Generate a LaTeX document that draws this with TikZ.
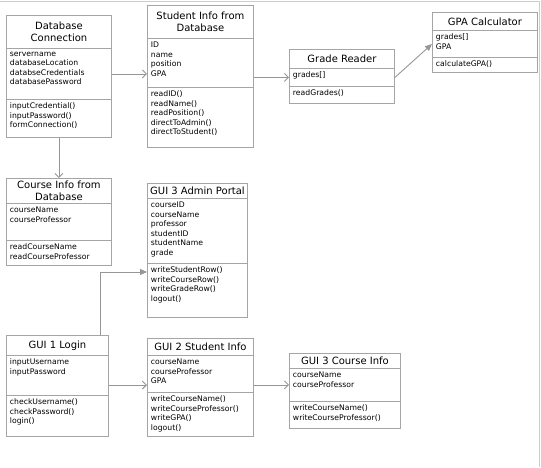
\documentclass[tikz,border=0pt]{standalone}
\usepackage{fontspec}
\setmainfont{DejaVu Sans}
\usetikzlibrary{arrows.meta}

\definecolor{boxgray}{RGB}{165,165,165}
\definecolor{linegray}{RGB}{150,150,150}
\definecolor{framegray}{RGB}{205,205,205}

% compartment of a class box: width, height, lines
\newcommand{\compartment}[3]{\parbox[t][\dimexpr#2pt-7pt\relax][t]{\dimexpr#1pt-7pt\relax}{\raggedright #3}}

\begin{document}
\begin{tikzpicture}[x=1pt, y=-1pt,
    classtitle/.style={draw=boxgray, line width=0.9pt, fill=white, anchor=north west,
      inner sep=0pt, align=center, font=\fontsize{10}{11.5}\selectfont},
    classpart/.style={draw=boxgray, line width=0.9pt, fill=white, anchor=north west,
      inner xsep=3.5pt, inner ysep=3.5pt, font=\fontsize{7.7}{9.5}\selectfont},
    openarrow/.style={draw=linegray, line width=0.9pt, -{Straight Barb[length=4pt,width=8pt]}},
    filledarrow/.style={draw=linegray, line width=0.9pt, -{Triangle[length=7pt,width=6pt]}}]

    \useasboundingbox (0,0) rectangle (541,467);
    \draw[framegray, line width=1pt] (0,1.5) -- (539.5,1.5) -- (539.5,467);

    % Database Connection
    \node[classtitle, minimum width=105, minimum height=33] (dbc-t) at (6,15) {Database\\Connection};
    \node[classpart] (dbc-a) at (6,48) {\compartment{105}{51}{servername\\databaseLocation\\databseCredentials\\databasePassword}};
    \node[classpart] (dbc-m) at (6,99) {\compartment{105}{38}{inputCredential()\\inputPassword()\\formConnection()}};

    % Student Info from Database
    \node[classtitle, minimum width=106, minimum height=33] (sid-t) at (147,5) {Student Info from\\Database};
    \node[classpart] (sid-a) at (147,38) {\compartment{106}{49}{ID\\name\\position\\GPA}};
    \node[classpart] (sid-m) at (147,87) {\compartment{106}{60}{readID()\\readName()\\readPosition()\\directToAdmin()\\directToStudent()}};

    % Grade Reader
    \node[classtitle, minimum width=105, minimum height=19] (grd-t) at (289,49) {Grade Reader};
    \node[classpart] (grd-a) at (289,68) {\compartment{105}{18}{grades[]}};
    \node[classpart] (grd-m) at (289,86) {\compartment{105}{17}{readGrades()}};

    % GPA Calculator
    \node[classtitle, minimum width=105, minimum height=18] (gpa-t) at (432,12) {GPA Calculator};
    \node[classpart] (gpa-a) at (432,30) {\compartment{105}{27}{grades[]\\GPA}};
    \node[classpart] (gpa-m) at (432,57) {\compartment{105}{15}{calculateGPA()}};

    % Course Info from Database
    \node[classtitle, minimum width=105, minimum height=25] (cid-t) at (6,178) {Course Info from\\Database};
    \node[classpart] (cid-a) at (6,203) {\compartment{105}{37}{courseName\\courseProfessor}};
    \node[classpart] (cid-m) at (6,240) {\compartment{105}{25}{readCourseName\\readCourseProfessor}};

    % GUI 3 Admin Portal
    \node[classtitle, minimum width=100, minimum height=15] (adm-t) at (147,183) {GUI 3 Admin Portal};
    \node[classpart] (adm-a) at (147,198) {\compartment{100}{65}{courseID\\courseName\\professor\\studentID\\studentName\\grade}};
    \node[classpart] (adm-m) at (147,263) {\compartment{100}{54}{writeStudentRow()\\writeCourseRow()\\writeGradeRow()\\logout()}};

    % GUI 1 Login
    \node[classtitle, minimum width=102, minimum height=20] (lgn-t) at (6,335) {GUI 1 Login};
    \node[classpart] (lgn-a) at (6,355) {\compartment{102}{40}{inputUsername\\inputPassword}};
    \node[classpart] (lgn-m) at (6,395) {\compartment{102}{41}{checkUsername()\\checkPassword()\\login()}};

    % GUI 2 Student Info
    \node[classtitle, minimum width=106, minimum height=17] (gs2-t) at (147,338) {GUI 2 Student Info};
    \node[classpart] (gs2-a) at (147,355) {\compartment{106}{37}{courseName\\courseProfessor\\GPA}};
    \node[classpart] (gs2-m) at (147,392) {\compartment{106}{44}{writeCourseName()\\writeCourseProfessor()\\writeGPA()\\logout()}};

    % GUI 3 Course Info
    \node[classtitle, minimum width=111, minimum height=15] (gc3-t) at (289,353) {GUI 3 Course Info};
    \node[classpart] (gc3-a) at (289,368) {\compartment{111}{33}{courseName\\courseProfessor}};
    \node[classpart] (gc3-m) at (289,401) {\compartment{111}{27}{writeCourseName()\\writeCourseProfessor()}};

    % connectors
    \draw[openarrow] (dbc-a.east) -- (dbc-a.east -| sid-a.west);
    \draw[openarrow] (grd-a.west -| sid-a.east) -- (grd-a.west);
    \draw[filledarrow] (grd-a.east) -- (gpa-a.west);
    \draw[openarrow] (dbc-m.south) -- (cid-t.north);
    \draw[filledarrow] ([xshift=-8pt]lgn-t.north east) |- ([yshift=-9pt]adm-m.north west);
    \draw[openarrow] ([yshift=10pt]lgn-m.north east) -- ([yshift=10pt]lgn-m.north east -| gs2-a.west);
    \draw[openarrow] (gc3-a.west -| gs2-a.east) -- (gc3-a.west);
\end{tikzpicture}
\end{document}
